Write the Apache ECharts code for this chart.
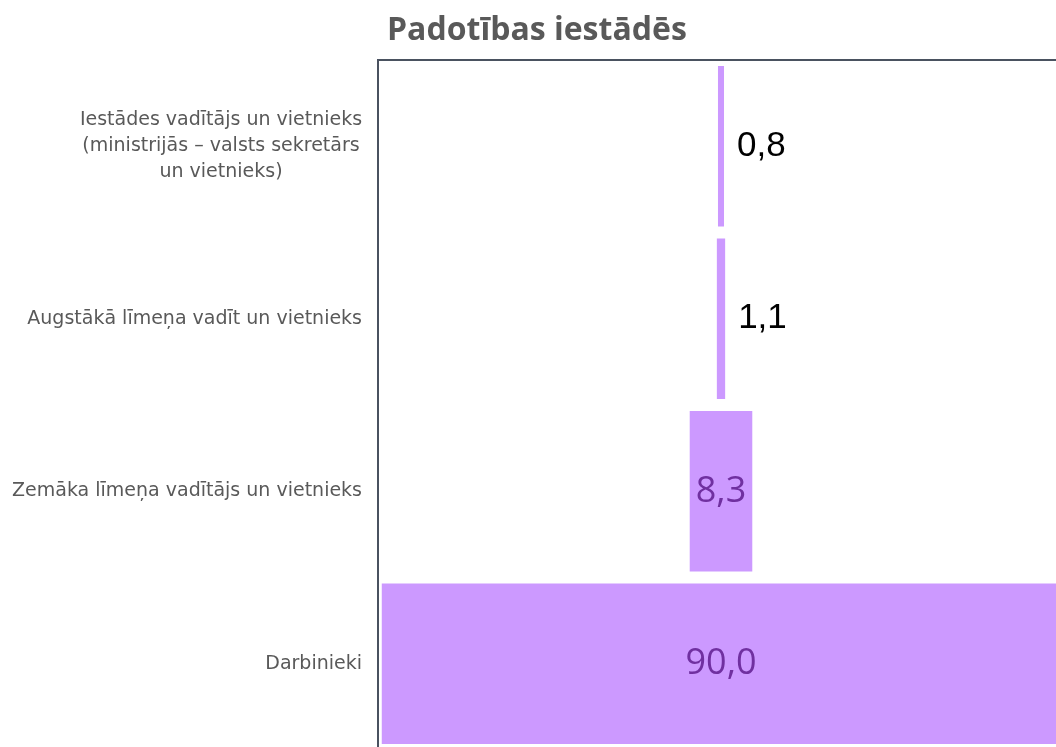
<!DOCTYPE html>
<html>
<head>
<meta charset="utf-8">
<script src="https://cdn.jsdelivr.net/npm/echarts@6/dist/echarts.min.js"></script>
<style>
  html, body { margin: 0; padding: 0; overflow: hidden; background: #fff; }
  #chart { width: 1064px; height: 760px; }
</style>
</head>
<body>
<div id="chart"></div>
<script>
var categories = [
  "Iestādes vadītājs un vietnieks\n(ministrijās – valsts sekretārs\nun vietnieks)",
  "Augstākā līmeņa vadīt un vietnieks",
  "Zemāka līmeņa vadītājs un vietnieks",
  "Darbinieki"
];
var values = [0.8, 1.1, 8.3, 90.0];
var axisMax = 91;

// invisible spacer so each bar sits in the middle
var spacer = values.map(function (v) { return (axisMax - v) / 2; });

var chart = echarts.init(document.getElementById("chart"));

chart.setOption({
  animation: false,
  backgroundColor: "#fff",
  title: {
    text: "Padotības iestādēs",
    left: 382,
    top: 10,
    textStyle: {
      fontFamily: "Open Sans",
      fontWeight: 700,
      fontSize: 32,
      color: "#595959"
    }
  },
  grid: {
    left: 378,
    right: 0,
    top: 60,
    bottom: 10,
    show: true,
    borderColor: "#4a5260",
    borderWidth: 2,
    containLabel: false
  },
  xAxis: {
    type: "value",
    min: 0,
    max: axisMax,
    show: false
  },
  yAxis: {
    type: "category",
    inverse: true,
    data: categories,
    axisLine: { show: false },
    axisTick: { show: false },
    axisLabel: {
      margin: 16,
      fontFamily: "DejaVu Sans",
      fontSize: 19,
      color: "#595959",
      lineHeight: 26,
      formatter: function (val) {
        if (val.indexOf("\n") >= 0) {
          return val.split("\n").map(function (s) { return "{m|" + s + "}"; }).join("\n");
        }
        return val;
      },
      rich: {
        m: {
          width: 282,
          align: "center",
          fontFamily: "DejaVu Sans",
          fontSize: 19,
          color: "#595959",
          lineHeight: 26
        }
      }
    }
  },
  series: [
    {
      type: "bar",
      stack: "f",
      silent: true,
      itemStyle: { color: "transparent" },
      barCategoryGap: "7%",
      data: spacer
    },
    {
      type: "bar",
      stack: "f",
      barCategoryGap: "7%",
      itemStyle: { color: "#cc99ff" },
      data: values.map(function (v) {
        var small = v < 5;
        return {
          value: v,
          label: small ? {
            show: true,
            position: "right",
            distance: 13,
            fontFamily: "Liberation Sans",
            fontSize: 35,
            color: "#000"
          } : {
            show: true,
            position: "inside",
            fontFamily: "Open Sans",
            fontSize: 36,
            color: "#7030a0"
          }
        };
      }),
      label: {
        formatter: function (p) { return p.value.toFixed(1).replace(".", ","); }
      }
    }
  ]
});
</script>
</body>
</html>
